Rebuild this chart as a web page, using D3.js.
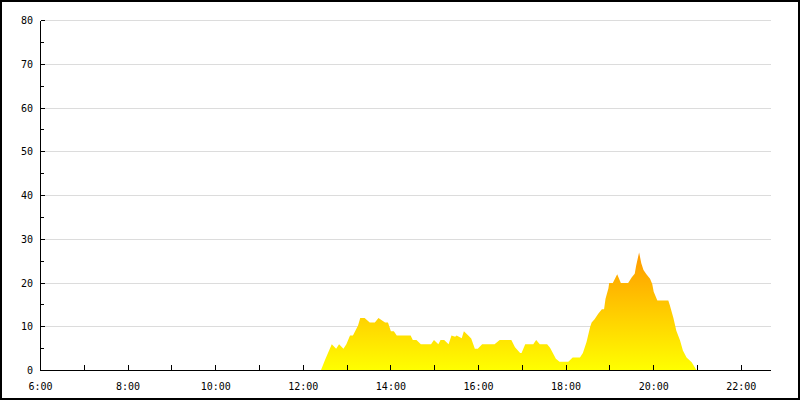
<!DOCTYPE html>
<html>
<head>
<meta charset="utf-8">
<script src="https://cdn.jsdelivr.net/npm/d3@7"></script>
<style>
  html, body { margin: 0; padding: 0; background: #fff; }
  svg { display: block; }
  text { font-family: "DejaVu Sans Mono", monospace; font-size: 10px; fill: #000; }
</style>
</head>
<body>
<svg id="chart" width="800" height="400"></svg>
<script>
// ---- data ----
const times = ["12:24","12:30","12:39","12:45","12:49","12:55","12:59","13:04","13:08","13:15","13:18","13:24","13:31","13:38","13:43","13:52","13:56","14:00","14:04","14:08","14:27","14:30","14:35","14:41","14:55","14:59","15:05","15:08","15:13","15:19","15:23","15:28","15:30","15:37","15:40","15:46","15:50","15:55","15:59","16:05","16:22","16:29","16:45","16:50","16:57","16:59","17:04","17:15","17:19","17:24","17:34","17:38","17:46","17:51","18:03","18:09","18:19","18:23","18:28","18:33","18:35","18:39","18:44","18:49","18:52","18:54","18:58","18:59","19:04","19:10","19:15","19:25","19:30","19:34","19:36","19:40","19:43","19:46","19:50","19:55","19:58","20:00","20:05","20:20","20:22","20:27","20:31","20:36","20:40","20:45","20:52","20:56","20:59"];
const values = [0,2.5,6,5,6,5,6,8,8,10.3,12,12,11,11,12,11,11,9,9,8,8,7,7,6,6,7,6,7,7,6,8,7.7,8,7.4,9,8,7.3,5,5,6,6,7,7,5.3,4,4,6,6,7,6,6,5.2,2.7,2,2,3,3,4,6.5,10,11,11.7,13,14,14,16.4,18.8,20,20,22,20,20,21.3,22.1,24,27,24.5,23,22,21,19.8,18,16,16,15,12,9.1,6.9,4.6,3,1.9,0.8,0];
const yTicks = [0,10,20,30,40,50,60,70,80];
const yMinorTicks = [5,15,25,35,45,55,65,75];
const xTickLabels = ["6:00","8:00","10:00","12:00","14:00","16:00","18:00","20:00","22:00"];
const xStart = "6:00", xEnd = "22:40";

const toMin = s => { const [h, m] = s.split(":").map(Number); return h * 60 + m; };
const fmt = m => Math.floor(m / 60) + ":" + String(m % 60).padStart(2, "0");
const data = times.map((t, i) => ({ t: toMin(t), v: values[i] }));

const svg = d3.select("#chart");
const x = d3.scaleLinear().domain([toMin(xStart), toMin(xEnd)]).range([40.5, 770.5]);
const y = d3.scaleLinear().domain([0, 80]).range([370.5, 20.5]);

// border
svg.append("rect").attr("x", 1).attr("y", 1).attr("width", 798).attr("height", 398)
  .attr("fill", "#fff").attr("stroke", "#000").attr("stroke-width", 2);

// gridlines
svg.append("g").selectAll("line").data(yTicks.filter(d => d > 0)).join("line")
  .attr("x1", x.range()[0]).attr("x2", x.range()[1])
  .attr("y1", d => y(d)).attr("y2", d => y(d))
  .attr("stroke", "#dcdcdc").attr("stroke-width", 1).attr("shape-rendering", "crispEdges");

// gradient
const defs = svg.append("defs");
const grad = defs.append("linearGradient").attr("id", "g1").attr("gradientUnits", "userSpaceOnUse")
  .attr("x1", 0).attr("x2", 0).attr("y1", y(0)).attr("y2", y(27));
grad.append("stop").attr("offset", 0).attr("stop-color", "#ffff00");
grad.append("stop").attr("offset", 1).attr("stop-color", "#ff9900");

// area
const area = d3.area().x(d => x(d.t)).y0(y(0)).y1(d => y(d.v)).curve(d3.curveLinear);
svg.append("path").datum(data).attr("d", area).attr("fill", "url(#g1)");

// y axis
const yAxis = svg.append("g").attr("shape-rendering", "crispEdges");
yAxis.append("line").attr("x1", 40.5).attr("x2", 40.5).attr("y1", y(80)).attr("y2", y(0)).attr("stroke", "#000");
yAxis.selectAll("line.maj").data(yTicks).join("line").attr("class", "maj")
  .attr("x1", 40.5).attr("x2", 45).attr("y1", d => y(d)).attr("y2", d => y(d)).attr("stroke", "#000");
yAxis.selectAll("line.min").data(yMinorTicks).join("line").attr("class", "min")
  .attr("x1", 40.5).attr("x2", 44).attr("y1", d => y(d)).attr("y2", d => y(d)).attr("stroke", "#000");
yAxis.selectAll("text").data(yTicks).join("text")
  .attr("x", 33).attr("y", d => y(d) + 3.5).attr("text-anchor", "end").text(d => d);

// x axis
const xAxis = svg.append("g").attr("shape-rendering", "crispEdges");
xAxis.append("line").attr("x1", x.range()[0]).attr("x2", x.range()[1]).attr("y1", 370.5).attr("y2", 370.5).attr("stroke", "#000");
const hourTicks = d3.range(toMin(xStart), toMin(xEnd) + 1, 60);
xAxis.selectAll("line.t").data(hourTicks).join("line").attr("class", "t")
  .attr("x1", d => Math.round(x(d) - 0.5) + 0.5).attr("x2", d => Math.round(x(d) - 0.5) + 0.5)
  .attr("y1", 370.5).attr("y2", 365).attr("stroke", "#000");
xAxis.selectAll("text").data(xTickLabels).join("text")
  .attr("x", d => x(toMin(d))).attr("y", 390).attr("text-anchor", "middle").text(d => d);
</script>
</body>
</html>
